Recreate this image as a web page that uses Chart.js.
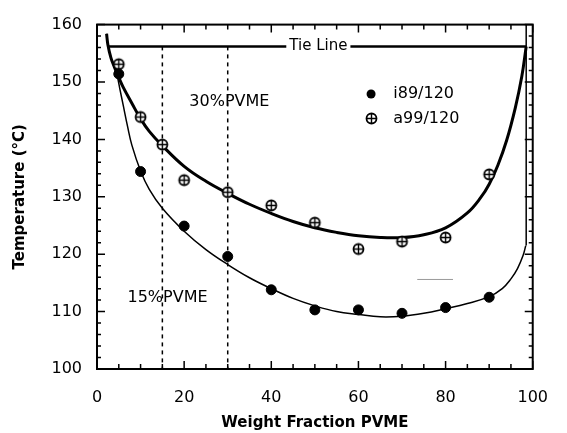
<!DOCTYPE html>
<html>
<head>
<meta charset="utf-8">
<script src="https://cdn.jsdelivr.net/npm/chart.js@4/dist/chart.umd.min.js"></script>
<style>
  html, body { margin: 0; padding: 0; background: #fff; }
  #wrap { width: 567px; height: 433px; }
</style>
</head>
<body>
<div id="wrap"><canvas id="chart" width="567" height="433"></canvas></div>
<script>
// Datos
const i89X = [5, 10, 20, 30, 40, 50, 60, 70, 80, 90];
const i89Y = [151.4, 134.4, 124.9, 119.6, 113.8, 110.3, 110.3, 109.7, 110.7, 112.5];

const a99X = [5, 10, 15, 20, 30, 40, 50, 60, 70, 80, 90];
const a99Y = [153.1, 143.9, 139.1, 132.9, 130.8, 128.5, 125.5, 120.9, 122.2, 122.9, 133.9];

// curva gruesa (a99/120)
const thickX = [2.2, 2.5, 3.2, 4, 5, 6, 8, 10, 12, 15, 20, 25, 30, 35, 40, 45, 50, 55, 60, 65, 70, 75, 80, 85, 88, 90, 92, 94, 96, 97.5, 98.5];
const thickY = [158.4, 156.5, 154.2, 152.6, 150.8, 149.1, 146.3, 143.6, 141.4, 138.9, 135.3, 132.7, 130.6, 128.7, 127.1, 125.7, 124.6, 123.8, 123.2, 122.9, 122.9, 123.4, 124.6, 127.2, 129.8, 132.2, 135.5, 139.8, 145.5, 151, 156.2];

// curva delgada (i89/120)
const thinX = [2.2, 2.5, 3.2, 4, 4.6, 5.3, 6, 7, 8, 10, 12, 15, 20, 25, 30, 35, 40, 45, 50, 55, 60, 65, 70, 75, 80, 85, 90, 93, 95, 96.5, 97.8, 98.4];
const thinY = [158.4, 156.5, 154.2, 152.6, 151.2, 148.6, 146, 142.3, 139, 134.5, 131.3, 128, 124, 120.8, 118.2, 115.9, 114, 112.3, 111, 110, 109.5, 109.1, 109.2, 109.7, 110.5, 111.4, 112.6, 114, 115.7, 117.5, 119.8, 121.5];
const wallX = [98.5, 98.5];
const wallY = [121.5, 160];

const tieX = [2.3, 98.5];
const tieY = [156.2, 156.2];
const dash15X = [15, 15];
const dash30X = [30, 30];
const dashY = [156.2, 100];
const grayX = [73.5, 81.7];
const grayY = [115.6, 115.6];

const xTicks = [0, 20, 40, 60, 80, 100];
const yTicks = [100, 110, 120, 130, 140, 150, 160];

function pts(xs, ys) { return xs.map((x, i) => ({ x: x, y: ys[i] })); }

// marcador círculo con cruz
function plusCircle(r) {
    const s = 2 * Math.ceil(r + 2) + 1;
    const c = document.createElement('canvas');
    c.width = s; c.height = s;
    const g = c.getContext('2d');
    const m = s / 2;
    g.lineWidth = 1.8;
    g.strokeStyle = '#000';
    g.fillStyle = '#fff';
    g.beginPath(); g.arc(m, m, r, 0, Math.PI * 2); g.fill(); g.stroke();
    g.lineWidth = 1.4;
    g.beginPath();
    g.moveTo(m, m - r); g.lineTo(m, m + r);
    g.moveTo(m - r, m); g.lineTo(m + r, m);
    g.stroke();
    return c;
}
const plusMark = plusCircle(5);

const frame = {
    id: 'frame',
    afterDatasetsDraw(chart) {
        const ctx = chart.ctx;
        const { left, right, top, bottom } = chart.chartArea;
        const x = chart.scales.x, y = chart.scales.y;
        ctx.save();
        ctx.strokeStyle = '#000';
        ctx.lineWidth = 2;
        ctx.strokeRect(left, top, right - left, bottom - top);
        ctx.lineWidth = 1.5;
        ctx.beginPath();
        for (let v = 0; v <= 100; v += 5) {
            const px = x.getPixelForValue(v);
            const len = v % 20 === 0 ? 8 : 5;
            ctx.moveTo(px, bottom); ctx.lineTo(px, bottom - len);
            ctx.moveTo(px, top); ctx.lineTo(px, top + len);
        }
        for (let v = 100; v <= 160; v += 2) {
            const py = y.getPixelForValue(v);
            const len = v % 10 === 0 ? 8 : 4;
            ctx.moveTo(left, py); ctx.lineTo(left + len, py);
            ctx.moveTo(right, py); ctx.lineTo(right - len, py);
        }
        ctx.stroke();

        // Tie Line
        ctx.font = '15px "DejaVu Sans"';
        ctx.textBaseline = 'middle';
        ctx.textAlign = 'center';
        const tx = x.getPixelForValue(50.8), ty = y.getPixelForValue(156.2);
        const w = ctx.measureText('Tie Line').width;
        ctx.fillStyle = '#fff';
        ctx.fillRect(tx - w / 2 - 3, ty - 8, w + 6, 16);
        ctx.fillStyle = '#000';
        ctx.fillText('Tie Line', tx, ty);

        ctx.font = '16px "DejaVu Sans"';
        ctx.textAlign = 'left';
        ctx.fillText('30%PVME', x.getPixelForValue(21.2), y.getPixelForValue(146.5));
        ctx.fillText('15%PVME', x.getPixelForValue(7.0), y.getPixelForValue(112.4));

        // leyenda
        const lx = x.getPixelForValue(62.9);
        const l1 = y.getPixelForValue(147.9), l2 = y.getPixelForValue(143.6);
        ctx.beginPath(); ctx.arc(lx, l1, 4.5, 0, Math.PI * 2); ctx.fill();
        ctx.drawImage(plusMark, Math.round(lx - plusMark.width / 2), Math.round(l2 - plusMark.height / 2));
        ctx.fillText('i89/120', x.getPixelForValue(68), l1);
        ctx.fillText('a99/120', x.getPixelForValue(68), l2);
        ctx.restore();
    }
};

function initChart() {
    Chart.defaults.font.family = '"DejaVu Sans"';
    Chart.defaults.color = '#000';
    const ctx = document.getElementById('chart').getContext('2d');
    new Chart(ctx, {
        type: 'scatter',
        data: {
            datasets: [
                { label: 'i89/120', data: pts(i89X, i89Y), pointStyle: 'circle', pointRadius: 5, backgroundColor: '#000', borderColor: '#000', showLine: false },
                { label: 'a99/120', data: pts(a99X, a99Y), pointStyle: plusMark, pointRadius: 5, showLine: false },
                { data: pts(thickX, thickY), showLine: true, borderColor: '#000', borderWidth: 3, pointRadius: 0, tension: 0.4 },
                { data: pts(thinX, thinY), showLine: true, borderColor: '#000', borderWidth: 1.5, pointRadius: 0, tension: 0.4 },
                { data: pts(wallX, wallY), showLine: true, borderColor: '#000', borderWidth: 1.5, pointRadius: 0 },
                { data: pts(tieX, tieY), showLine: true, borderColor: '#000', borderWidth: 2.5, pointRadius: 0 },
                { data: pts(dash15X, dashY), showLine: true, borderColor: '#000', borderWidth: 1.5, borderDash: [4, 4], pointRadius: 0 },
                { data: pts(dash30X, dashY), showLine: true, borderColor: '#000', borderWidth: 1.5, borderDash: [4, 4], pointRadius: 0 },
                { data: pts(grayX, grayY), showLine: true, borderColor: '#999', borderWidth: 1, pointRadius: 0 }
            ]
        },
        options: {
            responsive: false,
            animation: false,
            layout: { padding: { top: 22, right: 19, left: 0, bottom: 0 } },
            plugins: { legend: { display: false }, tooltip: { enabled: false } },
            scales: {
                x: {
                    type: 'linear', min: 0, max: 100,
                    afterBuildTicks: s => { s.ticks = xTicks.map(v => ({ value: v })); },
                    afterFit: s => { s.height = 64; },
                    grid: { display: false, drawTicks: false },
                    border: { display: false },
                    ticks: { font: { size: 16 }, padding: 19, maxRotation: 0 },
                    title: { display: true, text: 'Weight Fraction PVME', font: { size: 15, weight: 'bold' }, padding: { top: 0, bottom: 1 } }
                },
                y: {
                    type: 'linear', min: 100, max: 160,
                    afterBuildTicks: s => { s.ticks = yTicks.map(v => ({ value: v })); },
                    afterFit: s => { s.width = 97; },
                    grid: { display: false, drawTicks: false },
                    border: { display: false },
                    ticks: { font: { size: 16 }, padding: 15 },
                    title: { display: true, text: 'Temperature (°C)', font: { size: 15, weight: 'bold' }, padding: { top: 11, bottom: 0 } }
                }
            }
        },
        plugins: [frame]
    });
}

document.addEventListener('DOMContentLoaded', initChart);
</script>
</body>
</html>
